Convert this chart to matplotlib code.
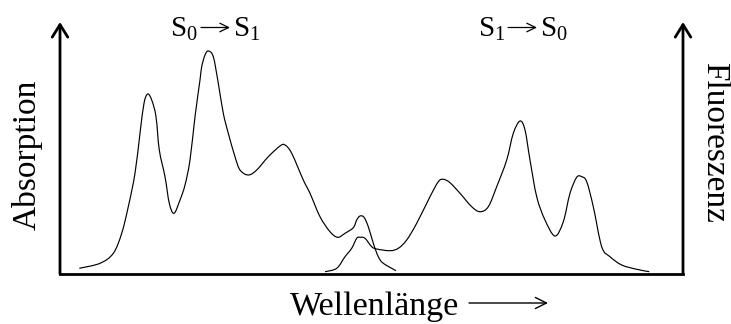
import matplotlib
matplotlib.use("Agg")
import matplotlib.pyplot as plt
from matplotlib.path import Path
from matplotlib.patches import PathPatch, FancyArrowPatch

plt.rcParams['font.family'] = ['Liberation Serif', 'DejaVu Sans']
plt.rcParams['mathtext.fontset'] = 'custom'
plt.rcParams['mathtext.rm'] = 'Liberation Serif'
plt.rcParams['mathtext.it'] = 'Liberation Serif:italic'
plt.rcParams['mathtext.bf'] = 'Liberation Serif:bold'

# Absorption band (S0 -> S1), wavelength in arbitrary units
abs_wl = [19.3, 40, 53.3, 61.7, 68.3, 75, 80, 84, 87.7, 91.7, 96, 99.3, 105,
          109.3, 114, 120, 125, 130, 135, 140, 141.7, 145, 148.3, 153.3, 158.3,
          163.3, 168.3, 175, 180, 188.3, 196.7, 208.3, 220, 225, 231.7, 243.3,
          250, 260, 270, 277.7, 285, 293.3, 296.7, 300, 304, 308.3, 313.3,
          318.3, 323.3, 336]
abs_int = [5.7, 10.7, 20.7, 40.7, 67.3, 100.7, 140.7, 170.7, 180, 174, 157.3,
           124, 97.3, 70.7, 60.7, 74, 89, 114, 157.3, 194, 207.3, 219, 223,
           217.3, 190.7, 160.7, 140.7, 117.3, 104, 99, 104, 117.3, 128, 129,
           120.7, 94, 80.7, 57.3, 42.3, 36.7, 40.7, 46.3, 54, 58, 56.7, 47.3,
           30.7, 17.3, 10.7, 3.3]

# Fluorescence band (S1 -> S0)
fl_wl = [265, 276.7, 285, 291.7, 296.7, 300, 305, 311.7, 316.7, 330, 338.3,
         346.7, 356.7, 370, 378.3, 383.3, 390, 400, 411.7, 420, 428.3, 436.7,
         446.7, 453.3, 460, 465, 470, 476.7, 485, 495, 503.3, 510, 516.7,
         521.7, 526.7, 533.3, 541.7, 550, 561.7, 576.7, 589.3]
fl_int = [2.3, 5.7, 17.3, 25.7, 35.7, 36.7, 35.7, 27.3, 25, 23.3, 25.7, 34,
          50.7, 77.3, 92.3, 94.7, 91.3, 80.7, 67.3, 62.3, 67.3, 87.3, 114,
          140.7, 153, 144, 114, 77.3, 54, 38, 52.3, 80.7, 96.7, 97.3, 92.3,
          67.3, 27.3, 17.3, 9, 4.7, 2.3]

# transition labels: (initial state, final state)
transitions = [('0', '1'), ('1', '0')]


def smooth_path(xs, ys):
    """Cubic Bezier path passing through every (x, y) sample (Catmull-Rom)."""
    pts = list(zip(xs, ys))
    verts = [pts[0]]
    codes = [Path.MOVETO]
    n = len(pts)
    for i in range(n - 1):
        p0 = pts[i - 1] if i > 0 else pts[i]
        p1 = pts[i]
        p2 = pts[i + 1]
        p3 = pts[i + 2] if i + 2 < n else pts[i + 1]
        c1 = (p1[0] + (p2[0] - p0[0]) / 6, p1[1] + (p2[1] - p0[1]) / 6)
        c2 = (p2[0] - (p3[0] - p1[0]) / 6, p2[1] - (p3[1] - p1[1]) / 6)
        verts += [c1, c2, p2]
        codes += [Path.CURVE4] * 3
    return Path(verts, codes)


W, H = 731, 324
fig = plt.figure(figsize=(W / 100, H / 100), dpi=100)
ax = fig.add_axes([60 / W, 50 / H, 623 / W, 252 / H])
ax.set_xlim(0, 623)
ax.set_ylim(0, 252)
ax.axis('off')

for xs, ys in ((abs_wl, abs_int), (fl_wl, fl_int)):
    ax.add_patch(PathPatch(smooth_path(xs, ys), facecolor='none',
                           edgecolor='black', lw=0.85))

# axes with arrow heads
arrow_kw = dict(arrowstyle='->,head_length=0.45,head_width=0.28', lw=2.0,
                color='black', shrinkA=0, shrinkB=0, mutation_scale=20)
ax.annotate('', xy=(0, 1), xytext=(0, 0), xycoords='axes fraction',
            arrowprops=arrow_kw, annotation_clip=False)
ax.annotate('', xy=(1, 1), xytext=(1, 0), xycoords='axes fraction',
            arrowprops=arrow_kw, annotation_clip=False)
ax.plot([0, 1], [0, 0], transform=ax.transAxes, color='black', lw=2.0,
        clip_on=False, solid_capstyle='projecting')


def fx(px):
    return px / W


def fy(py):
    return 1 - py / H


# transition labels above each band: "S_a -> S_b"
for (a, b), (x_arrow0, x_arrow1) in zip(transitions, [(201, 230), (508, 537)]):
    fig.text(fx(x_arrow0 - 3), fy(37), r'$\mathrm{S}_' + a + '$',
             ha='right', va='baseline', fontsize=21)
    fig.text(fx(x_arrow1 + 3), fy(37), r'$\mathrm{S}_' + b + '$',
             ha='left', va='baseline', fontsize=21)
    fig.patches.append(FancyArrowPatch(
        (fx(x_arrow0), fy(27.5)), (fx(x_arrow1), fy(27.5)),
        transform=fig.transFigure,
        arrowstyle='->,head_length=0.45,head_width=0.22',
        mutation_scale=14, lw=0.9, color='black', shrinkA=0, shrinkB=0))

fig.text(27 / W, 1 - 155 / H, 'Absorption', rotation=90, ha='center',
         va='center', fontsize=24)
fig.text(714 / W, 1 - 142 / H, 'Fluoreszenz', rotation=270, ha='center',
         va='center', fontsize=24)

fig.text(fx(290), fy(315), 'Wellenlänge', ha='left', va='baseline',
         fontsize=24.5)
fig.patches.append(FancyArrowPatch(
    (fx(469), fy(303)), (fx(548), fy(303)),
    transform=fig.transFigure, arrowstyle='->,head_length=0.5,head_width=0.25',
    mutation_scale=16, lw=1.0, color='black', shrinkA=0, shrinkB=0))

fig.savefig('out.png', dpi=100)
